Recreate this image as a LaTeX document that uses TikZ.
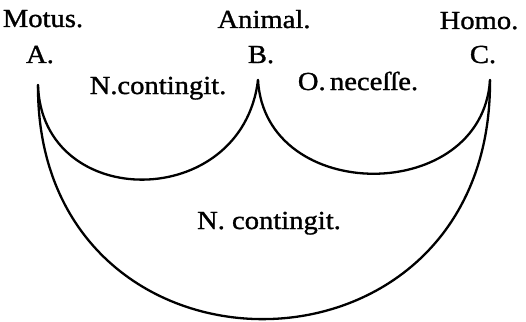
\documentclass[tikz,border=0pt]{standalone}
\usepackage{fontspec}
\setmainfont[FakeStretch=1.1,FakeBold=1.2]{Liberation Serif}
\begin{document}
\begin{tikzpicture}[x=1pt,y=-1pt,
  lbl/.style={font=\fontsize{26}{28}\selectfont, inner sep=0pt, anchor=base},
  curve/.style={line width=2.3pt, line cap=round}]
\useasboundingbox (0,0) rectangle (526,321);
% labels
\node[lbl] (motus) at (43,27) {Motus.};
\node[lbl] (la) at (40,63) {A.};
\node[lbl] (animal) at (264,28) {Animal.};
\node[lbl] (lb) at (261,63) {B.};
\node[lbl] (homo) at (479,29) {Homo.};
\node[lbl] (lc) at (483,63) {C.};
\node[lbl] (nc1) at (158,94) {N.contingit.};
\node[lbl] (on) at (358,90) {O.\,neceſſe.};
\node[lbl] (nc2) at (269,229) {N. contingit.};
% points
\coordinate (A) at (38,85);
\coordinate (B) at (258,80);
\coordinate (C) at (490,80);
% arcs
\draw[curve] (A) .. controls (42,212) and (242,212) .. (B);
\draw[curve] (B) .. controls (265,205) and (482,205) .. (C);
\draw[curve] (A) .. controls (36,398) and (492,398) .. (C);
\end{tikzpicture}
\end{document}
